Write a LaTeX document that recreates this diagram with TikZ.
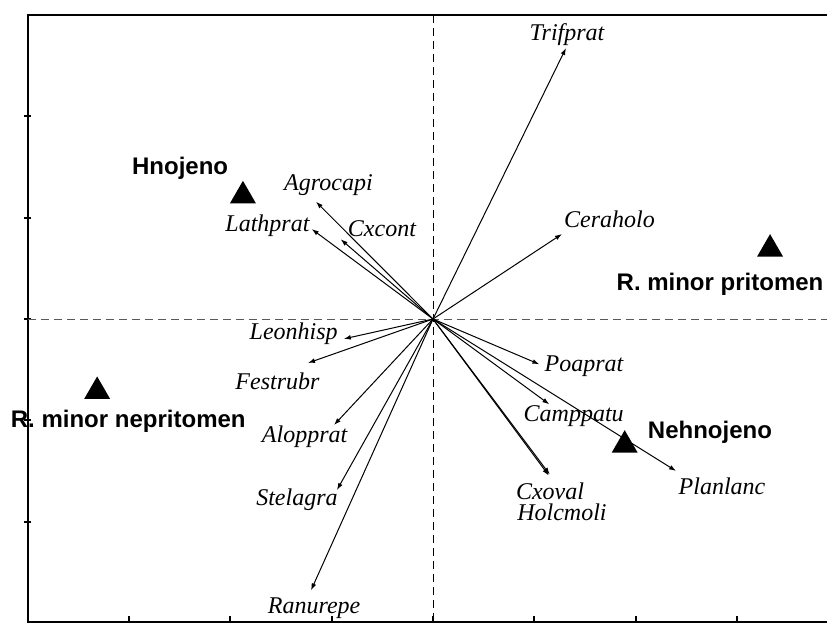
\documentclass[tikz,border=0pt]{standalone}
\usepackage{fontspec}
\setmainfont{Liberation Serif}
\setsansfont{Liberation Sans}
\usetikzlibrary{arrows.meta,shapes.geometric}

\begin{document}
\begin{tikzpicture}[x=50.65pt, y=50.65pt,
		spec/.style={font=\fontsize{12}{14}\selectfont\itshape,
		             inner sep=0pt, text height=8pt, text depth=2.5pt},
		grp/.style={font=\fontsize{12}{14}\selectfont\sffamily\bfseries,
		            inner sep=0pt, text height=9pt, text depth=2.5pt},
		site/.style={fill, regular polygon, regular polygon sides=3,
		             minimum size=15pt, inner sep=0pt, anchor=north},
		vec/.style={line width=0.5pt, -{Latex[length=3.5pt,width=2.4pt]}},
		frame/.style={line width=1pt}]
	\useasboundingbox (-4.274,-3.001) rectangle (3.889,3.149);
	
	% Frame and ticks
	\draw[frame] (4,3) -- (-4,3) -- (-4,-2.99) -- (4,-2.99) -- cycle;
	\foreach \y in {-2,...,2}{
		\draw[frame] (-4.035,\y) -- (-3.965,\y);
	}
	\foreach \x in {-3,...,3}{
		\draw[frame] (\x,-2.99) -- (\x,-2.93);
	}
	
	% Axes through the origin
	\coordinate (ori) at (0,0);
	\coordinate (ax west) at (-4,0);
	\coordinate (ax east) at (4,0);
	\coordinate (ax north) at (0,3);
	\coordinate (ax south) at (0,-2.99);
	\draw [gray!70!black, line width=0.5pt, dash pattern=on 4pt off 2.5pt]
	      (ax west) -- (ax east);
	\draw [line width=0.5pt, dash pattern=on 4pt off 2.5pt]
	      (ax north) -- (ax south);
	
	% Species arrows
	\foreach \nm/\tx/\ty/\lx/\ly in {
		Trifprat/1.313/2.675/1.323/2.799,
		Ceraholo/1.273/0.839/1.742/0.953,
		Agrocapi/-1.155/1.158/-1.032/1.321,
		Cxcont/-0.911/0.787/-0.504/0.867,
		Lathprat/-1.197/0.888/-1.634/0.916,
		Leonhisp/-0.880/-0.196/-1.375/-0.146,
		Festrubr/-1.234/-0.434/-1.535/-0.637,
		Alopprat/-0.977/-1.046/-1.267/-1.163,
		Stelagra/-0.948/-1.688/-1.343/-1.782,
		Ranurepe/-1.204/-2.678/-1.173/-2.851,
		Poaprat/1.050/-0.447/1.491/-0.459,
		Camppatu/1.148/-0.842/1.389/-0.960,
		Cxoval/1.143/-1.545/1.155/-1.723,
		Holcmoli/1.153/-1.535/1.273/-1.937,
		Planlanc/2.399/-1.500/2.853/-1.676}{
		\coordinate (tip \nm) at (\tx,\ty);
		\node (lab \nm) at (\lx,\ly) [spec] {\nm};
		\draw[vec] (ori) -- (tip \nm);
	}
	
	% Sites
	\node (tri hnoj) at (-1.876,1.372) [site] {};
	\node (tri prit) at (3.327,0.846) [site] {};
	\node (tri nepr) at (-3.315,-0.559) [site] {};
	\node (tri nehn) at (1.892,-1.089) [site] {};
	\node (lab hnoj) at (-2.496,1.486) [grp] {Hnojeno};
	\node (lab prit) at (2.833,0.341) [grp] {R. minor pritomen};
	\node (lab nepr) at (-3.008,-1.009) [grp] {R. minor nepritomen};
	\node (lab nehn) at (2.734,-1.114) [grp] {Nehnojeno};
\end{tikzpicture}
\end{document}
